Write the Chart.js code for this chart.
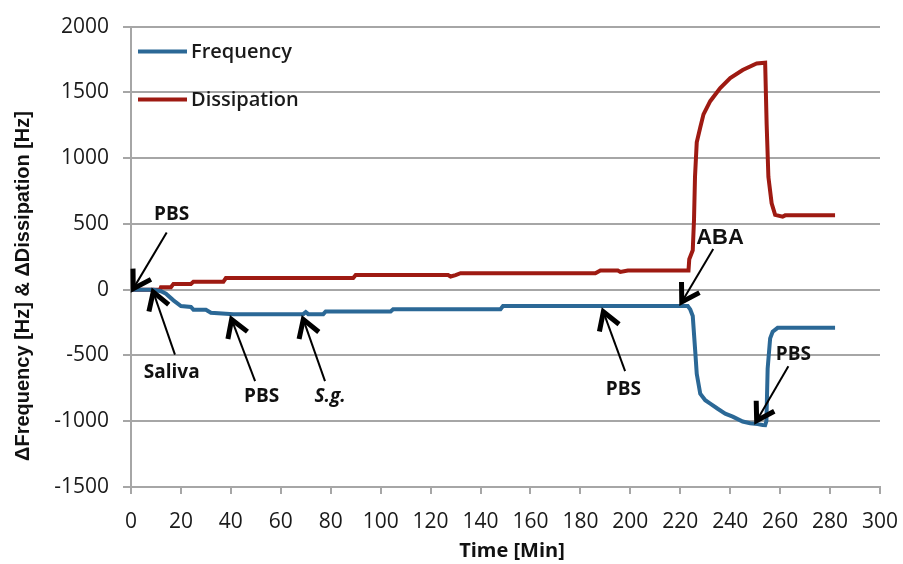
<!DOCTYPE html>
<html>
<head>
<meta charset="utf-8">
<script src="https://cdn.jsdelivr.net/npm/chart.js@4/dist/chart.umd.min.js"></script>
<style>
  html, body { margin: 0; background: #fff; }
</style>
</head>
<body>
<canvas id="chart" width="903" height="564"></canvas>
<script>
// Frequency trace (minutes / Hz)
const freqTime = [0, 9, 12, 14, 17, 20, 24, 25, 30, 32, 41, 69, 70, 71, 77, 78, 104, 105, 148, 149, 223, 224, 225, 226, 226.6, 228, 230, 232, 235, 238, 241, 245, 248, 251, 253, 254, 254.5, 255, 256, 257, 259, 282]
const freqValue = [0, 0, -12, -31, -81, -124, -131, -152, -152, -175, -186, -186, -170, -186, -186, -165, -165, -148, -148, -124, -124, -150, -200, -470, -640, -790, -840, -866, -905, -942, -965, -1002, -1015, -1022, -1028, -1030, -1000, -600, -370, -320, -290, -290]

// Dissipation trace (minutes / Hz)
const dissTime = [0, 11.6, 12, 16, 17, 24, 25, 37, 38, 89, 90, 127, 128, 130, 132, 186, 188, 195, 196, 199, 200, 223.3, 223.6, 225, 225.5, 225.9, 226.6, 228, 229.3, 232, 236, 240, 245, 250.6, 254, 254.6, 255.3, 256.6, 258, 261, 262, 282]
const dissValue = [0, 0, 19, 19, 44, 44, 61, 61, 88, 88, 111, 111, 100, 111, 125, 125, 146, 146, 135, 146, 146, 146, 231, 300, 531, 857, 1120, 1233, 1333, 1433, 1533, 1608, 1670, 1720, 1725, 1257, 857, 657, 569, 555, 565, 565]

const seriesLabels = ["Frequency", "Dissipation"]
const seriesColors = ["#2b6896", "#9e1a12"]

const xTicks = { min: 0, max: 300, step: 20 }
const yTicks = { min: -1500, max: 2000, step: 500 }
const xTitle = "Time [Min]"
const yTitle = "ΔFrequency [Hz] & ΔDissipation [Hz]"

// annotation arrows: [time, value] of tail and tip, label placed at labelAt
const noteLabels = ["PBS", "Saliva", "PBS", "S.g.", "PBS", "ABA", "PBS"]
const noteTail = [[14.3, 434], [17.6, -494], [49.7, -695], [77.7, -695], [197.9, -619], [233.2, 309], [263.3, -582]]
const noteTip = [[0.9, 8], [8.9, -17], [40.3, -226], [69, -226], [189.2, -168], [220.6, -93], [250.6, -996]]
const noteAt = [[16.3, 572], [16.3, -632], [52.3, -815], [79.7, -815], [197.2, -757], [235.9, 397], [265.3, -494]]

const toPoints = (ts, vs) => ts.map((t, i) => ({ x: t, y: vs[i] }))

const gridGray = "#a6a6a6"
const tickFont = { family: "'Open Sans', sans-serif", size: 21 }

const legendPlugin = {
  id: "insideLegend",
  afterDraw(chart) {
    const { ctx, chartArea } = chart
    ctx.save()
    seriesLabels.forEach((label, i) => {
      const y = chartArea.top + 25 + i * 48
      ctx.strokeStyle = seriesColors[i]
      ctx.lineWidth = 4
      ctx.beginPath()
      ctx.moveTo(chartArea.left + 7, y)
      ctx.lineTo(chartArea.left + 56, y)
      ctx.stroke()
      ctx.fillStyle = "#1a1a1a"
      ctx.font = "600 20px 'Open Sans', sans-serif"
      ctx.textBaseline = "middle"
      ctx.fillText(label, chartArea.left + 60, y + 1)
    })
    ctx.restore()
  },
}

// axis titles sit a little off-centre in the original, so they are drawn here
const axisTitlePlugin = {
  id: "axisTitles",
  afterDraw(chart) {
    const { ctx } = chart
    ctx.save()
    ctx.fillStyle = "#111"
    ctx.textAlign = "center"
    ctx.textBaseline = "middle"
    ctx.font = "bold 20px 'Open Sans', sans-serif"
    ctx.fillText(xTitle, 512, 551)
    ctx.translate(23, 286)
    ctx.rotate(-Math.PI / 2)
    ctx.font = "bold 20px 'Liberation Sans', Arial, sans-serif"
    ctx.fillText(yTitle, 0, 0)
    ctx.restore()
  },
}

const notePlugin = {
  id: "arrowNotes",
  afterDatasetsDraw(chart) {
    const { ctx } = chart
    const { x, y } = chart.scales
    ctx.save()
    noteLabels.forEach((label, i) => {
      const x0 = x.getPixelForValue(noteTail[i][0])
      const y0 = y.getPixelForValue(noteTail[i][1])
      const x1 = x.getPixelForValue(noteTip[i][0])
      const y1 = y.getPixelForValue(noteTip[i][1])
      const ang = Math.atan2(y1 - y0, x1 - x0)
      ctx.strokeStyle = "#000"
      ctx.lineWidth = 2
      ctx.beginPath()
      ctx.moveTo(x0, y0)
      ctx.lineTo(x1, y1)
      ctx.stroke()
      // open arrow head
      const len = 20, spread = 0.55
      ctx.lineWidth = 5
      ctx.lineJoin = "miter"
      ctx.beginPath()
      ctx.moveTo(x1 - len * Math.cos(ang - spread), y1 - len * Math.sin(ang - spread))
      ctx.lineTo(x1, y1)
      ctx.lineTo(x1 - len * Math.cos(ang + spread), y1 - len * Math.sin(ang + spread))
      ctx.stroke()

      const lx = x.getPixelForValue(noteAt[i][0])
      const ly = y.getPixelForValue(noteAt[i][1])
      if (label === "ABA") ctx.font = "bold 22px 'Liberation Sans', Arial, sans-serif"
      else if (label === "S.g.") ctx.font = "italic bold 19px 'Open Sans', sans-serif"
      else ctx.font = "bold 19px 'Open Sans', sans-serif"
      ctx.fillStyle = "#111"
      ctx.textAlign = "center"
      ctx.textBaseline = "middle"
      ctx.fillText(label, lx, ly)
    })
    ctx.restore()
  },
}

new Chart(document.getElementById("chart"), {
  type: "line",
  data: {
    datasets: [
      {
        label: seriesLabels[0],
        data: toPoints(freqTime, freqValue),
        borderColor: seriesColors[0],
        backgroundColor: seriesColors[0],
        borderWidth: 4,
        pointRadius: 0,
        tension: 0,
      },
      {
        label: seriesLabels[1],
        data: toPoints(dissTime, dissValue),
        borderColor: seriesColors[1],
        backgroundColor: seriesColors[1],
        borderWidth: 4,
        pointRadius: 0,
        tension: 0,
      },
    ],
  },
  options: {
    responsive: false,
    animation: false,
    layout: { padding: { left: 0, top: 22, right: 23, bottom: 0 } },
    plugins: {
      legend: { display: false },
      tooltip: { enabled: false },
    },
    scales: {
      x: {
        type: "linear",
        min: xTicks.min,
        max: xTicks.max,
        ticks: { stepSize: xTicks.step, color: "#1a1a1a", font: tickFont, padding: 15, maxRotation: 0 },
        grid: { drawOnChartArea: false, color: gridGray, lineWidth: 2, tickLength: 7 },
        border: { color: gridGray, width: 2 },
        afterFit(scale) {
          scale.height = 77
          scale.paddingRight = 0
        },
      },
      y: {
        min: yTicks.min,
        max: yTicks.max,
        ticks: { stepSize: yTicks.step, color: "#1a1a1a", font: tickFont, padding: 14, callback: (v) => String(v) },
        grid: { color: gridGray, lineWidth: 2, tickLength: 8 },
        border: { color: gridGray, width: 2 },
        afterFit(scale) { scale.width = 131 },
      },
    },
  },
  plugins: [notePlugin, legendPlugin, axisTitlePlugin],
})
</script>
</body>
</html>
